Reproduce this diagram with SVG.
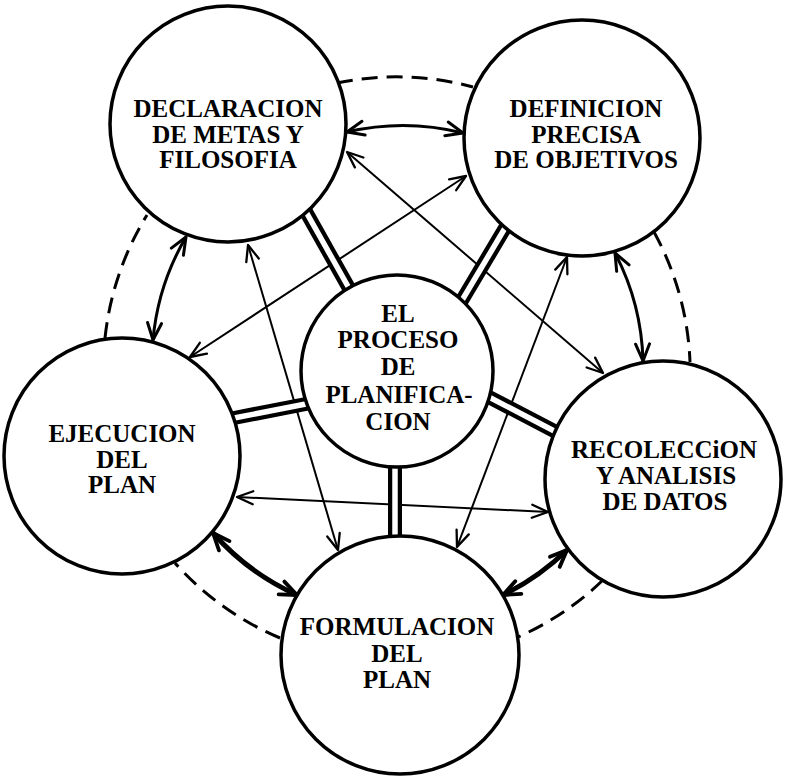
<svg xmlns="http://www.w3.org/2000/svg" width="785" height="781" viewBox="0 0 785 781">
<style>
.node{fill:#fff;stroke:#000;stroke-width:3.5}
.lbl{font-family:"Liberation Serif","Times New Roman",serif;font-weight:bold;font-size:25px;fill:#000;text-anchor:middle}
.dash{fill:none;stroke:#000;stroke-width:3;stroke-dasharray:16 9}
.arc{fill:none;stroke:#000;stroke-width:3;marker-start:url(#ahm);marker-end:url(#ahm)}
.arcb{fill:none;stroke:#000;stroke-width:5;marker-start:url(#ahb);marker-end:url(#ahb)}
.diag{fill:none;stroke:#000;stroke-width:2;marker-start:url(#aht);marker-end:url(#aht)}
.spk{stroke:#000;stroke-width:14}
.spkw{stroke:#fff;stroke-width:5.5}
</style>
<defs>
<marker id="aht" viewBox="-20 -10 24 20" refX="0" refY="0" markerWidth="24" markerHeight="20" markerUnits="userSpaceOnUse" orient="auto-start-reverse">
<path d="M-16,-6.5 L0,0 L-16,6.5" fill="none" stroke="#000" stroke-width="2.3" stroke-linecap="round" stroke-linejoin="round"/>
</marker>
<marker id="ahm" viewBox="-20 -10 24 20" refX="0" refY="0" markerWidth="24" markerHeight="20" markerUnits="userSpaceOnUse" orient="auto-start-reverse">
<path d="M-17,-7 L0,0 L-17,7" fill="none" stroke="#000" stroke-width="3" stroke-linecap="round" stroke-linejoin="round"/>
</marker>
<marker id="ahb" viewBox="-20 -10 24 20" refX="0" refY="0" markerWidth="24" markerHeight="20" markerUnits="userSpaceOnUse" orient="auto-start-reverse">
<path d="M-17,-7 L0,0 L-17,7" fill="none" stroke="#000" stroke-width="3.8" stroke-linecap="round" stroke-linejoin="round"/>
</marker>
</defs>
<g id="connectors">
<path class="dash" d="M337,83 A293,293 0 0 1 473,87"/>
<path class="dash" d="M654,232 A293,293 0 0 1 690,362"/>
<path class="dash" d="M603,580 A293,293 0 0 1 518,637"/>
<path class="dash" d="M280,638 A293,293 0 0 1 175,563"/>
<path class="dash" d="M105,338 A293,293 0 0 1 147,215"/>
<path class="arc" d="M347,132 A247,247 0 0 1 463,133"/>
<path class="arc" d="M615,253 A247,247 0 0 1 643,361"/>
<path class="arcb" d="M567,550 A247,247 0 0 1 503,595"/>
<path class="arcb" d="M297,595 A247,247 0 0 1 213,533"/>
<path class="arc" d="M153,340 A247,247 0 0 1 186,237"/>
<path class="diag" d="M347,152 L603,373"/>
<path class="diag" d="M248,245 L338,550"/>
<path class="diag" d="M466,176 L190,357"/>
<path class="diag" d="M567,257 L457,547"/>
<path class="diag" d="M237,497 L548,512"/>
<line class="spk" x1="305" y1="210" x2="350" y2="290"/>
<line class="spkw" x1="305" y1="210" x2="350" y2="290"/>
<line class="spk" x1="508" y1="223" x2="461" y2="302"/>
<line class="spkw" x1="508" y1="223" x2="461" y2="302"/>
<line class="spk" x1="229" y1="419" x2="311" y2="403"/>
<line class="spkw" x1="229" y1="419" x2="311" y2="403"/>
<line class="spk" x1="485" y1="395" x2="558" y2="433"/>
<line class="spkw" x1="485" y1="395" x2="558" y2="433"/>
<line class="spk" x1="395" y1="462" x2="395" y2="541"/>
<line class="spkw" x1="395" y1="462" x2="395" y2="541"/>
</g>
<g id="declaracion">
<circle class="node" cx="228" cy="124" r="118"/>
<text class="lbl" x="228" y="117">DECLARACION</text>
<text class="lbl" x="228" y="143">DE METAS Y</text>
<text class="lbl" x="228" y="168">FILOSOFIA</text>
</g>
<g id="definicion">
<circle class="node" cx="582" cy="138" r="118"/>
<text class="lbl" x="586" y="117">DEFINICION</text>
<text class="lbl" x="586" y="143">PRECISA</text>
<text class="lbl" x="586" y="168">DE OBJETIVOS</text>
</g>
<g id="ejecucion">
<circle class="node" cx="122" cy="456" r="118"/>
<text class="lbl" x="122" y="442">EJECUCION</text>
<text class="lbl" x="122" y="468">DEL</text>
<text class="lbl" x="122" y="493">PLAN</text>
</g>
<g id="recoleccion">
<circle class="node" cx="663" cy="479" r="118"/>
<text class="lbl" x="664" y="458">RECOLECCiON</text>
<text class="lbl" x="666" y="484">Y ANALISIS</text>
<text class="lbl" x="665" y="510">DE DATOS</text>
</g>
<g id="formulacion">
<circle class="node" cx="400" cy="655" r="119"/>
<text class="lbl" x="397" y="635">FORMULACION</text>
<text class="lbl" x="397" y="662">DEL</text>
<text class="lbl" x="397" y="688">PLAN</text>
</g>
<g id="proceso">
<circle class="node" cx="397" cy="371" r="96"/>
<text class="lbl" x="398" y="322">EL</text>
<text class="lbl" x="398" y="348">PROCESO</text>
<text class="lbl" x="398" y="375">DE</text>
<text class="lbl" x="399" y="403">PLANIFICA-</text>
<text class="lbl" x="398" y="430">CION</text>
</g>
</svg>
